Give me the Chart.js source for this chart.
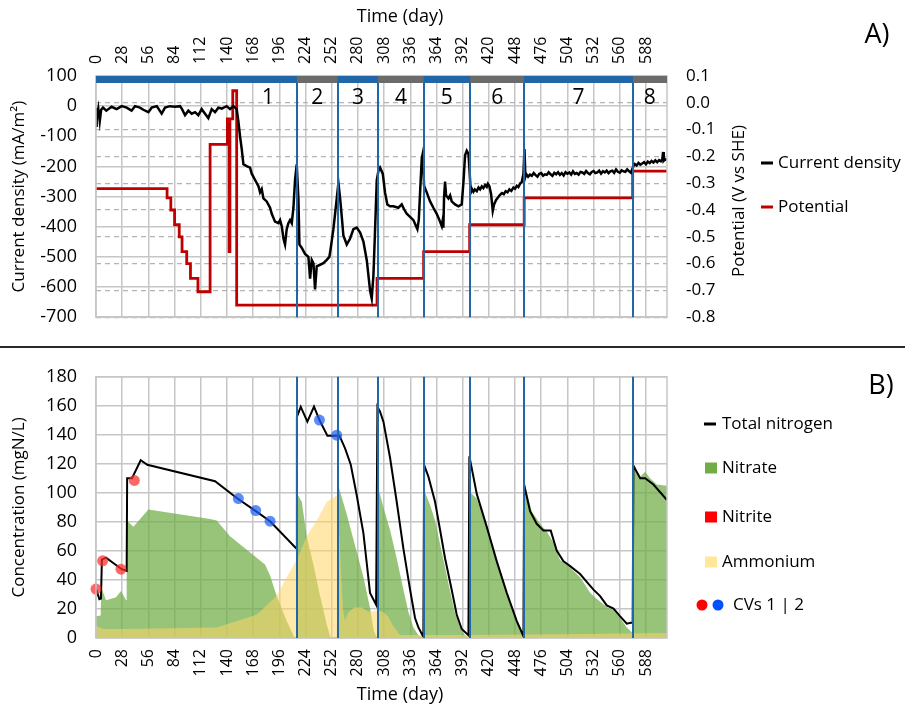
<!DOCTYPE html>
<html><head><meta charset="utf-8">
<script src="https://cdn.jsdelivr.net/npm/chart.js@4.4.0/dist/chart.umd.min.js"></script>
<style>
html,body{margin:0;padding:0;background:#fff;}
#wrap{position:relative;width:905px;height:706px;overflow:hidden;background:#fff;}
#cA{position:absolute;left:0;top:0;}
#cB{position:absolute;left:0;top:347px;}
#sep{position:absolute;left:0;top:346px;width:905px;height:2px;background:#2a2a2a;}
</style></head><body>
<div id="wrap">
<canvas id="cA" width="905" height="347"></canvas>
<canvas id="cB" width="905" height="359"></canvas>
<div id="sep"></div>
</div>
<script>
// ---------- DATA ----------
const xTickStep = 28;
const xMax = 610.5;
// phase boundaries (days) and labels
const phaseBounds = [0, 214.7, 258.4, 301.3, 350.5, 400, 457.8, 574, 610.5];
const phaseNames = ['1','2','3','4','5','6','7','8'];
const phaseLabelDays = [184, 236.5, 280, 326, 375, 429, 516, 592];

// A) current density (mA/m2)
const cdDays = [0,0.7,1.5,2.5,4,5.5,7.5,11,16.7,22,27.5,32.8,38,41.7,47,50.6,56,59.5,65,70.2,73.8,79.1,84.5,89.8,92,95.2,98.7,102.3,105.9,109.4,113,116.6,120.1,123.7,127.3,130.8,134.4,139.7,143.3,146.9,150.4,152.2,154,155.8,157.6,161.1,164.7,166.5,170.1,173.6,175.4,177.2,179,182.5,186.1,187.9,191.4,195,196.8,198.6,200.4,202.1,203.9,205.7,207.5,209.3,211.1,212.8,214.6,216.4,217.5,220,223.5,227.1,228.9,230.7,232.5,234.2,236,239.6,243.1,246.7,249.5,251,253.8,256.7,259.2,261,262.8,264.5,268.1,271.7,275.2,278.8,282.4,285.9,289.5,293.1,294.8,296.6,298.4,300.2,302,303.7,306.6,309,311.5,314.4,318,323.3,326.9,329.4,332.2,335.8,339.4,342.2,343.6,345.1,346.5,348.3,349.3,350.8,353.6,357.2,360.7,364.3,367.2,369.7,370.7,371.4,372.1,373.2,374.3,376.8,378.6,380.3,383.9,387.5,391,392.8,394.6,396.4,398.2,399.2,400.7,402,403.5,405,407.1,409,410.7,412.5,414.2,416,417.8,419,420.6,422.4,424.2,425.6,427.8,430,432,434,436,438,440,442,444,446.3,448,450,451.6,453.5,455.2,457,458.1,459.1,
460,462,464,466,468,470,472,474,476,478,480,482,484,486,488,490,492,494,496,498,500,502,504,506,508,510,512,514,516,518,520,522,524,526,528,530,532,534,536,538,540,542,544,546,548,550,552,554,556,558,560,562,564,566,568,570,572,
574.6,576,578,580,582,584,586,588,590,592,594,596,598,600,602,604,605.5,606.3,607,608.5,610];
const cdValues = [-65,-5,-30,-10,-50,-12,-5,-15,-2,-10,0,-5,-15,0,-5,-12,-20,-5,0,-25,-5,0,-2,0,-10,-30,-15,-25,-20,-30,-10,-25,-40,-10,-20,-5,-8,0,-10,0,-10,-50,-100,-142,-193,-199,-204,-224,-245,-265,-286,-275,-306,-316,-337,-357,-383,-388,-378,-398,-439,-459,-408,-388,-378,-388,-337,-245,-193,-306,-459,-470,-490,-500,-572,-510,-521,-608,-531,-526,-521,-510,-500,-470,-408,-327,-255,-306,-367,-429,-459,-439,-408,-403,-419,-449,-511,-613,-638,-562,-408,-245,-214,-204,-224,-286,-326,-332,-332,-337,-326,-342,-357,-367,-378,-398,-408,-378,-286,-173,-158,-265,-286,-316,-337,-357,-378,-398,-378,-403,-306,-250,-296,-306,-296,-316,-326,-332,-326,-255,-163,-148,-158,-204,-286,-275,-284,-276,-282,-270,-276,-266,-272,-262,-268,-258,-266,-291,-347,-326,-311,-302,-294,-288,-292,-282,-286,-276,-281,-270,-274,-264,-268,-256,-252,-224,-142,-234,
-225,-234,-227,-231,-222,-229,-234,-224,-222,-231,-226,-228,-219,-226,-231,-221,-226,-219,-228,-222,-230,-219,-224,-220,-227,-216,-225,-222,-227,-218,-220,-225,-215,-222,-226,-218,-215,-222,-220,-214,-224,-216,-220,-214,-222,-216,-214,-221,-210,-218,-221,-213,-216,-218,-210,-216,-221,
-199,-192,-197,-188,-194,-190,-186,-193,-184,-189,-182,-187,-180,-186,-179,-183,-176,-152,-181,-176,-180];

// A) potential (V vs SHE), value changes at given day
const potDays = [0,76,80,84,89,92,97,101,109,122,140.5,142.3,143.2,146.2,150.4,300.5,350.3,399.5,457.8,573.8,610.5];
const potValues = [-0.32,-0.355,-0.40,-0.455,-0.50,-0.555,-0.60,-0.655,-0.705,-0.155,-0.06,-0.555,-0.06,0.045,-0.755,-0.655,-0.555,-0.455,-0.355,-0.255,-0.255];

// B) concentrations (mgN/L)
const tnDays = [0,3.6,5.3,6.3,10.7,27.5,32.8,33.3,38.5,47.8,54.9,127.3,150.5,170.1,186.1,213.9,214.8,218.9,226,233.1,238.9,247.4,260.3,266.3,272.4,278.8,285.9,293,299.5,300.9,303.7,307.3,314.4,321.5,328.7,335.8,341.1,344.7,350,350.8,355.4,362.5,367.9,373.2,380.3,385.7,391,398.2,399.2,407.1,417.8,428.5,439.2,449.9,457,457.7,464.1,471.2,478.4,486.2,492.6,499.8,506.9,517.6,524.7,531.9,539,546.1,553.3,560.4,567.5,571.8,573.8,574.6,581.8,587.1,596,610.5];
const tnValues = [34,26.8,27.2,54,55.4,47.4,46.3,110.1,110.1,122.5,119.4,108,96.5,87.8,80.5,61.9,152.4,159.3,149.1,159.5,150.2,139.4,139.4,130.7,119.4,98.2,72.3,31.1,22.9,159.3,156,149.1,124.2,93.9,61.4,33.3,13.8,7.3,0.8,119.2,111.2,93.9,74.4,55,33.3,16,6.2,1.9,125.3,99.3,76.6,52.8,31.1,11.6,1.2,105.8,87.4,78.7,74,74,60.3,52.8,49.5,44.1,38.7,33.3,28.9,22.5,20.3,14.9,9.9,10.5,10.5,118.8,110.1,110.1,105.8,95];

const nitrateDays = [0,5,5.6,10.7,21.4,26.7,32.2,32.8,40,56,122,129,143.3,180.7,186.1,193.2,204,211.8,214.6,215.2,220,225.3,232.4,239.6,246.7,250.3,257.5,259.2,268.1,278.8,285.9,293.1,297,300.5,300.9,303.7,307.3,314.4,321.5,328.7,334,339.4,344.7,350.3,351.8,357.2,362.5,369.7,376.8,383.9,389.3,394.6,399,399.9,407.1,417.8,428.5,439.2,449.9,455.2,457.5,458.8,465.9,474.8,482,489.1,496.2,506.9,517.6,528.3,533.6,546.1,553.3,560.4,567.5,572.9,573.8,575.3,581.8,587.1,592.5,599.6,610.5];
const nitrateValues = [15,15.5,35,26,28,32.4,26,81,76.6,88.5,82,80.9,70.1,50.6,43,28.9,11.6,0.8,0,99.3,93.9,70.1,50.6,29,9.5,0.8,0,104.7,85.2,59.3,42,20.3,5,0,103.6,99,90,74.4,55,33.3,18.1,7.3,1.9,0,100.4,91.7,80.9,59.3,37.6,17.1,7.3,1.9,0,100.4,96.1,76.6,52.8,31.1,11.6,3,0,104.7,87.4,78.7,73.3,65.8,53.8,48.4,41.9,31.1,27.9,21.4,19.2,13.8,7.3,4,0,117.7,111.2,114.5,110.1,105.8,105];

const nitriteDays = [0,610.5];
const nitriteValues = [0,0];

const ammoniumDays = [0,7.8,32.8,129,171.8,193.2,204,214.6,225.3,236,246.7,257.4,259,262,264,266,270,276,284,292,300,307,312,318,325,400,500,610.5];
const ammoniumValues = [8.4,6.2,6.2,7.3,16,28.9,42,53.8,70.1,80.9,93.9,98.2,90,45,20,12,18,21,21,18,19,18,15,8,2,2,2.5,3.5];

const cv1Days = [0,7.1,26.7,41];
const cv1Values = [33.7,53.2,47.4,108.6];
const cv2Days = [152.2,170.8,186.1,238.9,257.4];
const cv2Values = [96.1,87.8,80.5,150.2,139.8];

// ---------- STYLE ----------
const FONT = "'Open Sans', 'Liberation Sans', sans-serif";
const GRID = '#c6c6c6';
const PHASE_BLUE = '#1f67a6';
const PHASE_GRAY = '#6b6b6b';

function pts(xs, ys){ return xs.map((x,i)=>({x:x, y:ys[i]})); }

const deco = {
  id: 'deco',
  afterDatasetsDraw(chart, args, opts){
    const ctx = chart.ctx, xs = chart.scales.x, ca = chart.chartArea;
    ctx.save();
    ctx.strokeStyle = GRID; ctx.lineWidth = 1.5;
    ctx.strokeRect(ca.left, ca.top, ca.right-ca.left, ca.bottom-ca.top);
    ctx.strokeStyle = PHASE_BLUE; ctx.lineWidth = 2;
    for (let i=1;i<phaseBounds.length-1;i++){
      const px = Math.round(xs.getPixelForValue(phaseBounds[i]));
      ctx.beginPath(); ctx.moveTo(px, ca.top); ctx.lineTo(px, ca.bottom); ctx.stroke();
    }
    if (opts.bar){
      for (let i=0;i<phaseBounds.length-1;i++){
        const a = xs.getPixelForValue(phaseBounds[i]), b = xs.getPixelForValue(phaseBounds[i+1]);
        ctx.fillStyle = (i%2===0) ? PHASE_BLUE : PHASE_GRAY;
        ctx.fillRect(a, ca.top, b-a, 7);
      }
      ctx.fillStyle = '#000'; ctx.font = "21px " + FONT;
      ctx.textAlign = 'center'; ctx.textBaseline = 'middle';
      phaseNames.forEach((n,i)=>{
        ctx.fillText(n, xs.getPixelForValue(phaseLabelDays[i]), ca.top + 22);
      });
    }
    ctx.restore();
  },
  afterDraw(chart, args, opts){
    const ctx = chart.ctx;
    ctx.save();
    (opts.texts||[]).forEach(t=>{
      ctx.save();
      ctx.font = t.font || ("17px " + FONT);
      ctx.textAlign = t.align || 'left'; ctx.textBaseline = 'middle';
      ctx.translate(t.x, t.y); if (t.rot) ctx.rotate(t.rot);
      ctx.fillStyle = '#000';
      ctx.fillText(t.text, 0, 0);
      ctx.restore();
    });
    (opts.legend||[]).forEach(l=>{
      ctx.font = "17px " + FONT; ctx.textAlign='left'; ctx.textBaseline='middle';
      if (l.type==='line'){
        ctx.fillStyle = l.color; ctx.fillRect(l.x, l.y-1.5, 12, 3);
      } else if (l.type==='rect'){
        ctx.fillStyle = l.color; ctx.fillRect(l.x, l.y-5.5, 12, 11);
      } else if (l.type==='dots'){
        ctx.fillStyle = l.color; ctx.beginPath(); ctx.arc(l.x+2, l.y, 5.5, 0, Math.PI*2); ctx.fill();
        ctx.fillStyle = l.color2; ctx.beginPath(); ctx.arc(l.x+18, l.y, 5.5, 0, Math.PI*2); ctx.fill();
      }
      ctx.fillStyle='#000';
      ctx.fillText(l.text, l.tx, l.y);
    });
    ctx.restore();
  }
};

const xScaleBase = (pos) => ({
  type: 'linear', position: pos, min: 0, max: xMax,
  ticks: { stepSize: xTickStep, includeBounds: false, autoSkip: false, minRotation: 90, maxRotation: 90,
           color: '#000', font: { size: 16, family: FONT }, padding: pos==='top' ? 12 : 11,
           labelOffset: pos==='top' ? 19.2 : 0 },
  grid: { color: GRID, lineWidth: 1.5, drawTicks: false },
  border: { display: false },
  afterFit: (s) => { s.height = pos==='top' ? 76 : 68; }
});

// ---------- CHART A ----------
new Chart(document.getElementById('cA'), {
  type: 'line',
  data: { datasets: [
    { label: 'Current density', data: pts(cdDays, cdValues), yAxisID: 'y', borderColor: '#000', borderWidth: 2.5,
      pointRadius: 0, tension: 0, fill: false, order: 0 },
    { label: 'Potential', data: pts(potDays, potValues), yAxisID: 'y1', borderColor: '#c00000', borderWidth: 2.8,
      pointRadius: 0, stepped: 'before', fill: false, order: 1 }
  ]},
  options: {
    responsive: false, animation: false, devicePixelRatio: 1,
    layout: { padding: { left: 0, right: 155, top: 0, bottom: 10 } },
    plugins: { legend: { display: false }, tooltip: { enabled: false },
      deco: { bar: true,
        texts: [
          { text: 'Time (day)', x: 400, y: 17, align: 'center', font: "18px " + FONT },
          { text: 'Potential (V vs SHE)', x: 739, y: 201, align: 'center', rot: -Math.PI/2, font: "17px " + FONT },
          { text: 'A)', x: 877, y: 35, align: 'center', font: "27px " + FONT }
        ],
        legend: [
          { type: 'line', color: '#000', x: 761, y: 163, tx: 778, text: 'Current density' },
          { type: 'line', color: '#c00000', x: 761, y: 207, tx: 778, text: 'Potential' }
        ] } },
    scales: {
      x: xScaleBase('top'),
      y: { type: 'linear', position: 'left', min: -700, max: 100,
           ticks: { stepSize: 100, color: '#000', font: { size: 18, family: FONT }, padding: 19 },
           grid: { color: GRID, lineWidth: 1.5, drawTicks: false }, border: { display: false },
           title: { display: true, text: 'Current density (mA/m²)', color: '#000', font: { size: 17, family: FONT }, padding: { top: 9, bottom: 0 } },
           afterFit: (s) => { s.width = 96; } },
      y1: { type: 'linear', position: 'right', min: -0.8, max: 0.1,
            ticks: { stepSize: 0.1, color: '#000', font: { size: 17, family: FONT }, padding: 19,
                     callback: (v) => (Math.abs(v) < 1e-9 ? '0.0' : Number(v).toFixed(1)) },
            grid: { color: '#b4b4b4', lineWidth: 1.2, drawTicks: false }, border: { display: false, dash: [5, 4] },
            afterFit: (s) => { s.width = 83; } }
    }
  },
  plugins: [deco]
});

// ---------- CHART B ----------
new Chart(document.getElementById('cB'), {
  type: 'line',
  data: { datasets: [
    { label: 'CVs 1', type: 'scatter', data: pts(cv1Days, cv1Values), backgroundColor: 'rgba(255,45,45,0.72)', borderWidth: 0,
      pointRadius: 5.5, clip: false, order: 0 },
    { label: 'CVs 2', type: 'scatter', data: pts(cv2Days, cv2Values), backgroundColor: 'rgba(30,95,245,0.72)', borderWidth: 0,
      pointRadius: 5.5, clip: false, order: 0 },
    { label: 'Total nitrogen', data: pts(tnDays, tnValues), borderColor: '#000', borderWidth: 2, pointRadius: 0, tension: 0, fill: false, order: 1 },
    { label: 'Ammonium', data: pts(ammoniumDays, ammoniumValues), borderColor: 'rgba(0,0,0,0)', borderWidth: 0, pointRadius: 0,
      tension: 0, fill: 'origin', backgroundColor: 'rgba(255,214,100,0.55)', order: 2 },
    { label: 'Nitrite', data: pts(nitriteDays, nitriteValues), borderColor: 'rgba(0,0,0,0)', borderWidth: 0, pointRadius: 0,
      fill: 'origin', backgroundColor: 'rgba(255,0,0,0.8)', order: 3 },
    { label: 'Nitrate', data: pts(nitrateDays, nitrateValues), borderColor: 'rgba(0,0,0,0)', borderWidth: 0, pointRadius: 0,
      tension: 0, fill: 'origin', backgroundColor: 'rgba(112,173,71,0.72)', order: 4 }
  ]},
  options: {
    responsive: false, animation: false, devicePixelRatio: 1,
    layout: { padding: { left: 0, right: 238, top: 15, bottom: 0 } },
    plugins: { legend: { display: false }, tooltip: { enabled: false },
      deco: { bar: false,
        texts: [
          { text: 'Time (day)', x: 400, y: 348, align: 'center', font: "18px " + FONT },
          { text: 'B)', x: 881, y: 39, align: 'center', font: "27px " + FONT }
        ],
        legend: [
          { type: 'line', color: '#000', x: 704, y: 77, tx: 722, text: 'Total nitrogen' },
          { type: 'rect', color: '#70ad47', x: 705, y: 121, tx: 722, text: 'Nitrate' },
          { type: 'rect', color: '#ff0000', x: 705, y: 170, tx: 722, text: 'Nitrite' },
          { type: 'rect', color: '#ffe699', x: 705, y: 215, tx: 722, text: 'Ammonium' },
          { type: 'dots', color: '#ff0000', color2: '#0050ff', x: 700, y: 258, tx: 733, text: 'CVs 1 | 2' }
        ] } },
    scales: {
      x: xScaleBase('bottom'),
      y: { type: 'linear', position: 'left', min: 0, max: 180,
           ticks: { stepSize: 20, color: '#000', font: { size: 18, family: FONT }, padding: 19 },
           grid: { color: GRID, lineWidth: 1.5, drawTicks: false }, border: { display: false },
           title: { display: true, text: 'Concentration (mgN/L)', color: '#000', font: { size: 17, family: FONT }, padding: { top: 9, bottom: 0 } },
           afterFit: (s) => { s.width = 96; } }
    }
  },
  plugins: [deco]
});
</script>
</body></html>
